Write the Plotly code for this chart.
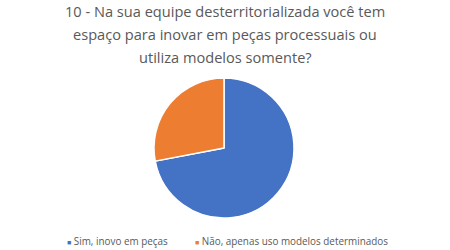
import plotly.graph_objects as go

labels = ["Sim, inovo em peças", "Não, apenas uso modelos determinados"]
values = [72, 28]
colors = ["#4472C4", "#ED7D31"]
title_lines = [
    "10 - Na sua equipe desterritorializada você tem",
    "espaço para inovar em peças processuais ou",
    "utiliza modelos somente?",
]

W, H = 450, 250
cx, cy, r = 224, 148, 70

fig = go.Figure(go.Pie(
    labels=labels, values=values, sort=False, direction="clockwise", rotation=0,
    marker=dict(colors=colors, line=dict(color="white", width=1.5)),
    textinfo="none", hoverinfo="label+percent",
    domain=dict(x=[(cx - r) / W, (cx + r) / W], y=[(H - cy - r) / H, (H - cy + r) / H]),
))

line_y = [11, 34, 57]
for t, yy in zip(title_lines, line_y):
    fig.add_annotation(text=t, x=0.5, xref="paper", y=1 - yy / H, yref="paper",
                       xanchor="center", yanchor="middle", showarrow=False,
                       font=dict(family="Open Sans", size=14.6, color="#595959"))

# legend drawn as annotations (small square markers, tight gap)
legend_x = [65, 193]
for lab, col, lx in zip(labels, colors, legend_x):
    fig.add_annotation(
        text=f"<span style='color:{col};font-size:7px'>■</span> {lab}",
        x=lx / W, xref="paper", y=1 - 241 / H, yref="paper",
        xanchor="left", yanchor="middle", showarrow=False,
        font=dict(family="Open Sans", size=9.9, color="#595959"))

fig.update_layout(
    width=W, height=H, margin=dict(l=0, r=0, t=0, b=0),
    paper_bgcolor="white", plot_bgcolor="white",
    showlegend=False,
)
fig.write_html("out.html")
